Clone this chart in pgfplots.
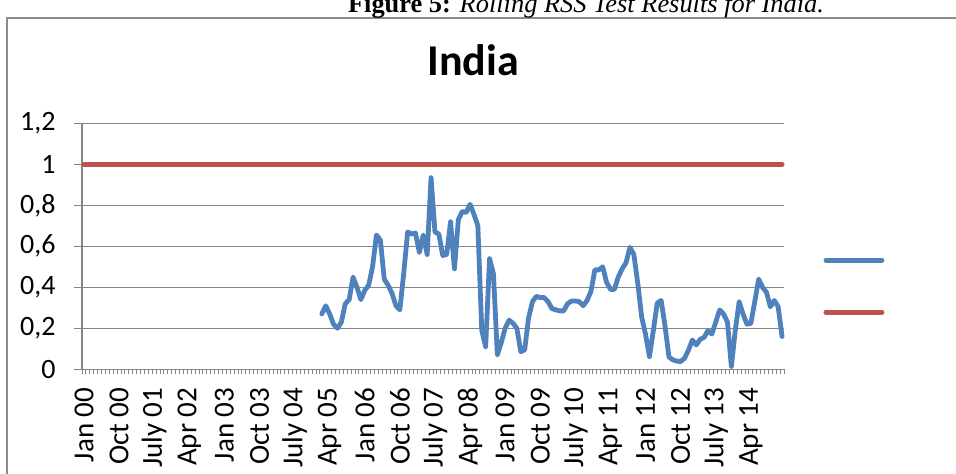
\documentclass[border=0pt]{standalone}
\usepackage{fontspec}
\setmainfont{Carlito}
\newfontfamily\capfont{Liberation Serif}
\usepackage{pgfplots}
\pgfplotsset{compat=1.18}
\definecolor{indiablue}{HTML}{4F81BD}
\definecolor{critred}{HTML}{C0504D}
\definecolor{gridgray}{HTML}{868686}
\definecolor{framegray}{HTML}{8C8C8C}

\begin{document}
\begin{tikzpicture}
\useasboundingbox (0,0) rectangle (478pt,236.5pt);
% outer chart frame (runs off the right and bottom edge)
\draw[framegray, line width=1pt] (3.5pt,-20pt) |- (500pt,227.5pt);
% figure caption, partly cut off at the top
\node[anchor=base, inner sep=0pt] at (293pt,230.5pt)
  {\capfont\fontsize{13.2}{15}\selectfont\textbf{Figure 5:} \textit{Rolling RSS Test Results for India.}};
% chart title
\node[anchor=base, inner sep=0pt] at (236.5pt,199pt)
  {\fontsize{22}{26}\selectfont\bfseries India};
\begin{axis}[
    at={(41pt,51.85pt)}, anchor=south west,
    scale only axis, width=351pt, height=123pt,
    xmin=-0.5, xmax=179.5, ymin=0, ymax=1.2,
    clip=false,
    axis lines*=left,
    axis line style={gridgray, line width=0.8pt},
    ytick={0,0.2,0.4,0.6,0.8,1,1.2},
    ymajorgrids=true,
    grid style={gridgray, line width=0.8pt},
    xtick={0,9,...,171},
    xticklabels={Jan 00,Oct 00,July 01,Apr 02,Jan 03,Oct 03,July 04,Apr 05,Jan 06,Oct 06,July 07,Apr 08,Jan 09,Oct 09,July 10,Apr 11,Jan 12,Oct 12,July 13,Apr 14},
    minor xtick={-0.5,0.5,...,179.5},
    tick align=outside,
    major tick length=4pt, minor tick length=2.5pt,
    every major x tick/.append style={draw=none},
    every minor x tick/.append style={gridgray, line width=0.5pt},
    every major y tick/.append style={gridgray, line width=0.8pt},
    xticklabel style={rotate=90, anchor=east, inner sep=0pt, xshift=-5pt,
        font=\fontsize{14.5}{16}\selectfont},
    yticklabel style={inner sep=0pt, xshift=-9pt, font=\fontsize{14}{16}\selectfont,
        /pgf/number format/.cd, use comma, fixed, precision=1, assume math mode=true},
    legend style={at={(axis description cs:1.0556,0.338)}, anchor=west,
        draw=none, fill=none, inner sep=0pt, row sep=20.5pt,
        font=\fontsize{14}{16}\selectfont},
    legend image code/.code={\draw[#1] (0pt,0pt) -- (28pt,0pt);},
    legend cell align=left,
]
\addplot[indiablue, line width=2.4pt, line join=round, line cap=round] coordinates {
(61,0.27) (62,0.31) (63,0.27) (64,0.22) (65,0.20) (66,0.23) (67,0.32) (68,0.34)
(69,0.45) (70,0.40) (71,0.34) (72,0.385) (73,0.41) (74,0.50) (75,0.655) (76,0.63)
(77,0.44) (78,0.41) (79,0.37) (80,0.31) (81,0.29) (82,0.47) (83,0.67) (84,0.66)
(85,0.665) (86,0.57) (87,0.655) (88,0.56) (89,0.935) (90,0.67) (91,0.66) (92,0.555)
(93,0.56) (94,0.72) (95,0.49) (96,0.73) (97,0.77) (98,0.765) (99,0.805) (100,0.756)
(101,0.70) (102,0.19) (103,0.11) (104,0.54) (105,0.466) (106,0.07) (107,0.13) (108,0.20)
(109,0.24) (110,0.225) (111,0.20) (112,0.086) (113,0.095) (114,0.25) (115,0.33) (116,0.356)
(117,0.35) (118,0.35) (119,0.33) (120,0.296) (121,0.29) (122,0.285) (123,0.285) (124,0.32)
(125,0.333) (126,0.333) (127,0.33) (128,0.31) (129,0.336) (130,0.38) (131,0.485) (132,0.485)
(133,0.50) (134,0.425) (135,0.39) (136,0.39) (137,0.45) (138,0.49) (139,0.52) (140,0.595)
(141,0.56) (142,0.42) (143,0.256) (144,0.17) (145,0.062) (146,0.19) (147,0.323) (148,0.336)
(149,0.21) (150,0.06) (151,0.046) (152,0.04) (153,0.038) (154,0.054) (155,0.094) (156,0.143)
(157,0.119) (158,0.146) (159,0.156) (160,0.188) (161,0.172) (162,0.231) (163,0.29) (164,0.27)
(165,0.23) (166,0.014) (167,0.19) (168,0.33) (169,0.27) (170,0.22) (171,0.224) (172,0.33)
(173,0.44) (174,0.40) (175,0.376) (176,0.305) (177,0.336) (178,0.305) (179,0.16)
};
\addlegendentry{\mbox{}}
\addplot[critred, line width=2.5pt, line cap=round] coordinates {(0,1) (179,1)};
\addlegendentry{\mbox{}}
\end{axis}
\end{tikzpicture}
\end{document}
